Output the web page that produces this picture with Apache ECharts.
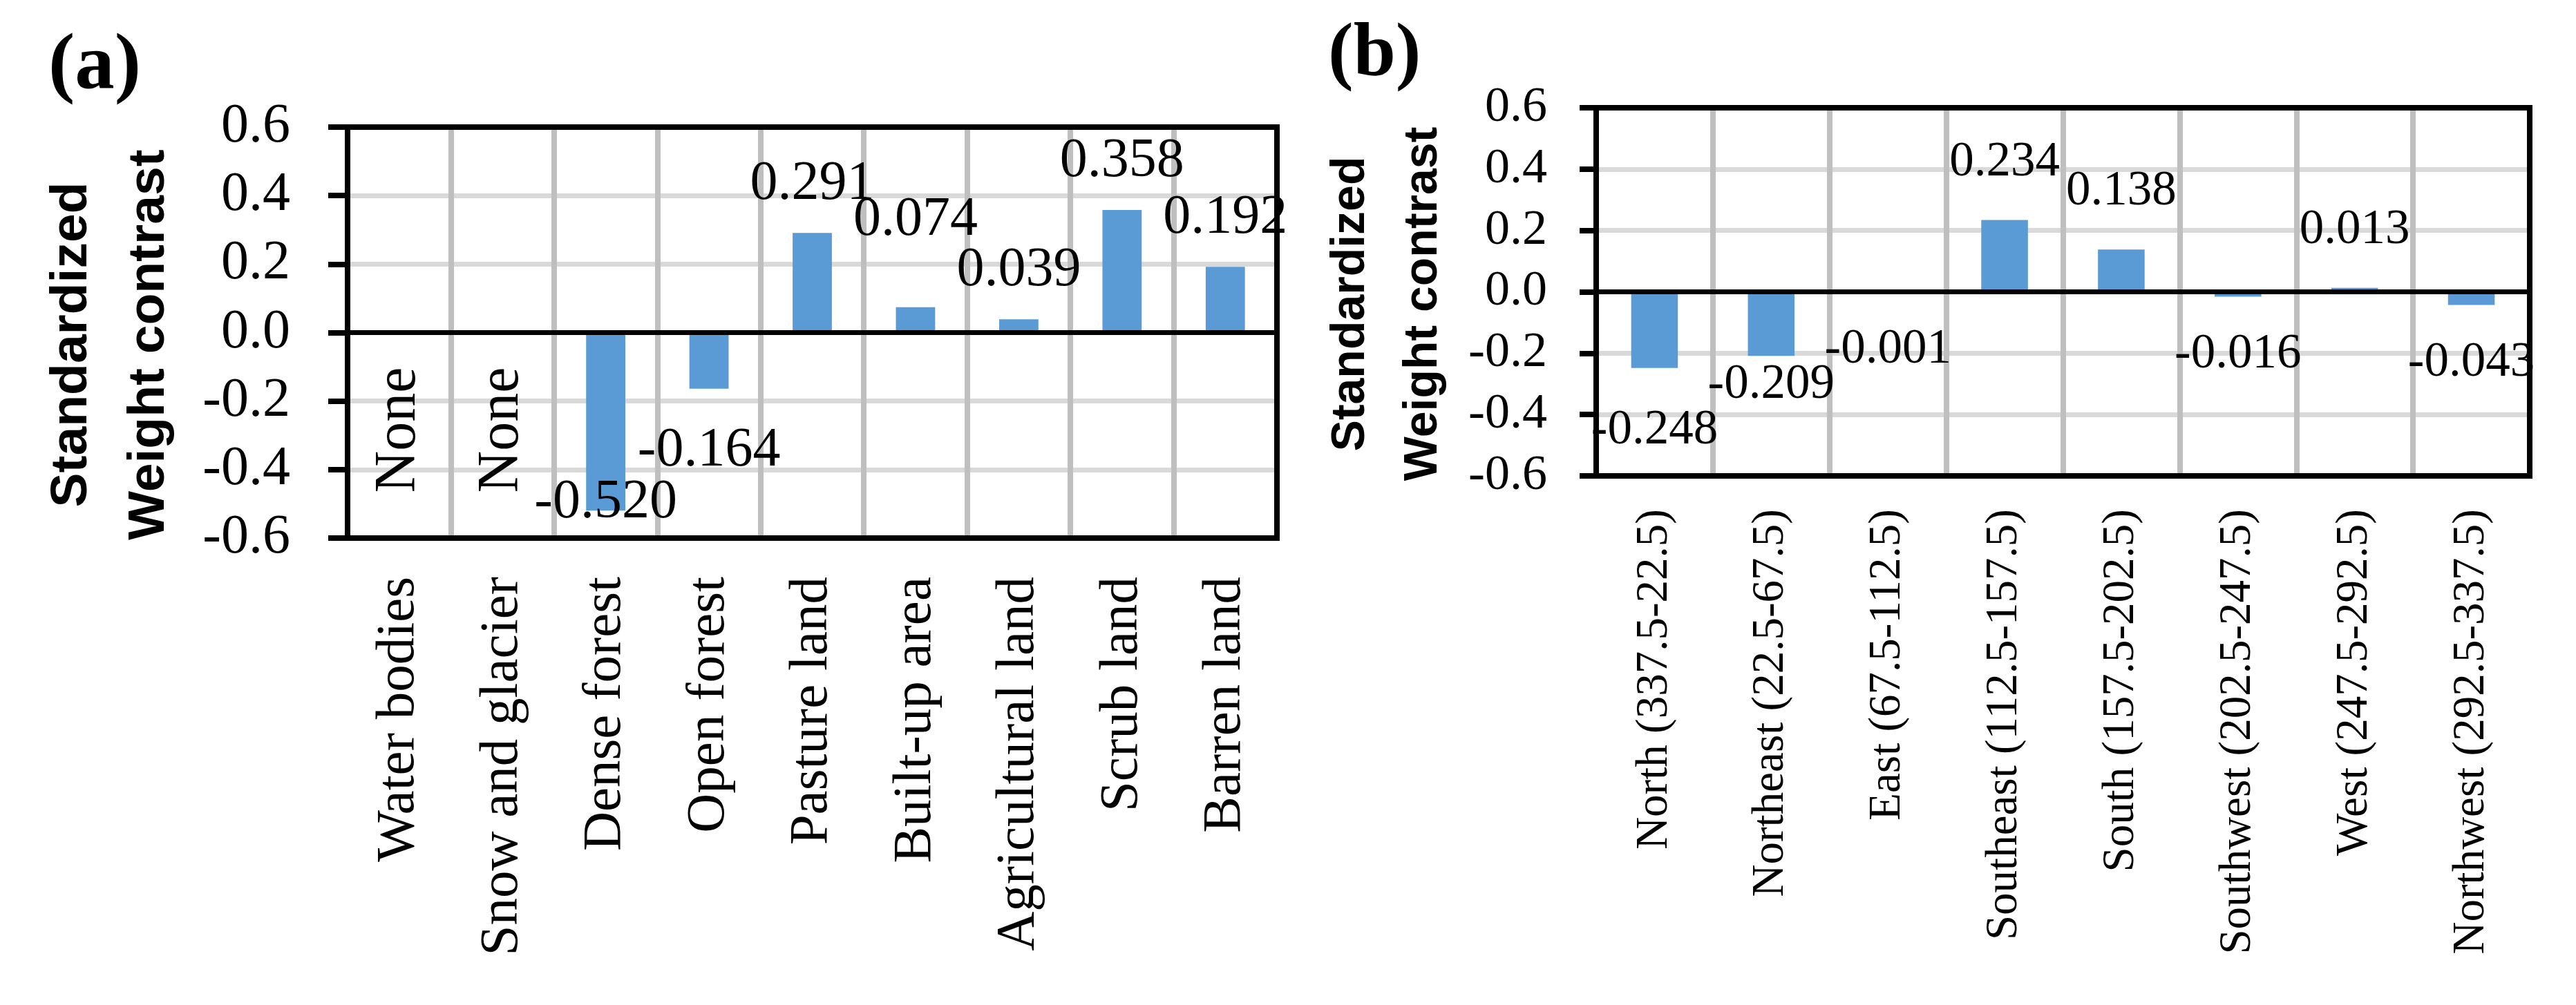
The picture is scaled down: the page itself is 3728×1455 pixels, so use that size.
<!DOCTYPE html>
<html>
<head>
<meta charset="utf-8">
<script src="https://cdn.jsdelivr.net/npm/echarts@6/dist/echarts.min.js"></script>
<style>
  html, body { margin: 0; padding: 0; background: #ffffff; }
  #chart { width: 3728px; height: 1455px; }
</style>
</head>
<body>
<div id="chart"></div>
<script>
// ---------- data ----------
const landCategories = ['Water bodies', 'Snow and glacier', 'Dense forest', 'Open forest', 'Pasture land', 'Built-up area', 'Agricultural land', 'Scrub land', 'Barren land'];
const landValues = [null, null, -0.520, -0.164, 0.291, 0.074, 0.039, 0.358, 0.192];
const aspectCategories = ['North (337.5-22.5)', 'Northeast (22.5-67.5)', 'East (67.5-112.5)', 'Southeast (112.5-157.5)', 'South (157.5-202.5)', 'Southwest (202.5-247.5)', 'West (247.5-292.5)', 'Northwest (292.5-337.5)'];
const aspectValues = [-0.248, -0.209, -0.001, 0.234, 0.138, -0.016, 0.013, -0.043];
const yMin = -0.6, yMax = 0.6, yStep = 0.2;
const missingLabel = 'None';
const panelLabels = ['(a)', '(b)'];
const yTitleLines = ['Standardized', 'Weight contrast'];

// ---------- style ----------
const SERIF = '"Liberation Serif", "Times New Roman", serif';
const BAR = '#5b9bd5';
const BORDER_W = 8;
// label nudges (pixels) for individual data labels, as in the original layout
const landLabelNudge = {2: -81, 3: 20, 5: -56};
const aspectLabelNudge = {0: 7, 1: -41};

const panels = [
  { grid: {left: 503, top: 184, width: 1345, height: 595},
    cats: landCategories, vals: landValues, nudge: landLabelNudge,
    tickFont: 80, catFont: 79, labelFont: 80, catMargin: 56, yMargin: 83, tickLen: 28, tickLift: 14,
    labelDist: 30, barWidth: '38%' },
  { grid: {left: 2310, top: 156, width: 1351, height: 533},
    cats: aspectCategories, vals: aspectValues, nudge: aspectLabelNudge,
    tickFont: 72, catFont: 65, labelFont: 71, catMargin: 48, yMargin: 71, tickLen: 24, tickLift: 6,
    labelDist: 48, barWidth: '40%' }
];

const option = {
  animation: false,
  backgroundColor: '#ffffff',
  textStyle: {fontFamily: SERIF, color: '#000'},
  grid: [], xAxis: [], yAxis: [], series: [], graphic: []
};

const borderLine = {show: true, lineStyle: {color: '#000', width: BORDER_W, cap: 'square'}};

panels.forEach((p, gi) => {
  option.grid.push(Object.assign({containLabel: false, show: false}, p.grid));
  const xBase = option.xAxis.length;
  const yBase = option.yAxis.length;
  // main category axis (labels + vertical gridlines)
  option.xAxis.push({
    type: 'category', gridIndex: gi, position: 'bottom', data: p.cats, z: 0,
    axisLine: {show: false, onZero: false}, axisTick: {show: false},
    axisLabel: {interval: 0, rotate: 90, margin: p.catMargin, color: '#000', fontFamily: SERIF, fontSize: p.catFont},
    splitLine: {show: true, interval: 0, lineStyle: {color: '#bfbfbf', width: 8}}
  });
  // bottom border
  option.xAxis.push({
    type: 'category', gridIndex: gi, position: 'bottom', data: p.cats, z: 10,
    axisLine: Object.assign({onZero: false}, borderLine), axisTick: {show: false},
    axisLabel: {show: false}, splitLine: {show: false}
  });
  // top border
  option.xAxis.push({
    type: 'category', gridIndex: gi, position: 'top', data: p.cats, z: 10,
    axisLine: Object.assign({onZero: false}, borderLine), axisTick: {show: false},
    axisLabel: {show: false}, splitLine: {show: false}
  });
  // main value axis (labels + horizontal gridlines)
  option.yAxis.push({
    type: 'value', gridIndex: gi, position: 'left', min: yMin, max: yMax, interval: yStep, z: 0,
    axisLine: {show: false}, axisTick: {show: false},
    axisLabel: {margin: p.yMargin, color: '#000', fontFamily: SERIF, fontSize: p.tickFont,
                padding: [0, 0, p.tickLift, 0],
                formatter: v => (Math.abs(v) < 1e-9 ? 0 : v).toFixed(1)},
    splitLine: {show: true, lineStyle: {color: '#d9d9d9', width: 7}}
  });
  // left border with ticks
  option.yAxis.push({
    type: 'value', gridIndex: gi, position: 'left', min: yMin, max: yMax, interval: yStep, z: 10,
    axisLine: Object.assign({onZero: false}, borderLine),
    axisTick: {show: true, inside: false, length: p.tickLen, lineStyle: {color: '#000', width: BORDER_W}},
    axisLabel: {show: false}, splitLine: {show: false}
  });
  // right border
  option.yAxis.push({
    type: 'value', gridIndex: gi, position: 'right', min: yMin, max: yMax, interval: yStep, z: 10,
    axisLine: Object.assign({onZero: false}, borderLine), axisTick: {show: false},
    axisLabel: {show: false}, splitLine: {show: false}
  });

  const data = p.vals.map((v, i) => {
    const nudge = p.nudge[i] || 0;
    if (v === null) {
      return {
        value: 0,
        label: {show: true, formatter: missingLabel, position: 'bottom', distance: 50,
                rotate: 90, align: 'right', verticalAlign: 'middle',
                fontSize: 84, fontFamily: SERIF, color: '#000'}
      };
    }
    return {value: v, label: {offset: [0, nudge], fontFamily: SERIF}};
  });

  option.series.push({
    type: 'bar', xAxisIndex: xBase, yAxisIndex: yBase, data: data,
    barWidth: p.barWidth, z: 2,
    itemStyle: {color: BAR},
    label: {show: true, position: 'outside', distance: p.labelDist, color: '#000',
            fontFamily: SERIF, fontSize: p.labelFont,
            formatter: prm => Number(prm.value).toFixed(3)},
    markLine: {
      silent: true, symbol: ['none', 'none'], z: 6,
      label: {show: false},
      lineStyle: {color: '#000', width: 7, type: 'solid'},
      data: [{yAxis: 0}]
    }
  });
});

// panel letters
option.graphic.push(
  {type: 'text', left: 70, top: 40, style: {text: panelLabels[0], font: 'bold 115px "Liberation Serif"', fill: '#000'}},
  {type: 'text', left: 1922, top: 26, style: {text: panelLabels[1], font: 'bold 110px "Liberation Serif"', fill: '#000'}}
);
// y-axis titles (rotated)
option.graphic.push(
  {type: 'text', x: 160, y: 499, rotation: Math.PI / 2,
   style: {text: yTitleLines.join('\n'), font: 'bold 75px "Liberation Sans"', fill: '#000',
           align: 'center', verticalAlign: 'middle', lineHeight: 112}},
  {type: 'text', x: 2008, y: 440, rotation: Math.PI / 2,
   style: {text: yTitleLines.join('\n'), font: 'bold 68px "Liberation Sans"', fill: '#000',
           align: 'center', verticalAlign: 'middle', lineHeight: 105}}
);

const chart = echarts.init(document.getElementById('chart'), null, {renderer: 'canvas'});
chart.setOption(option);
</script>
</body>
</html>
